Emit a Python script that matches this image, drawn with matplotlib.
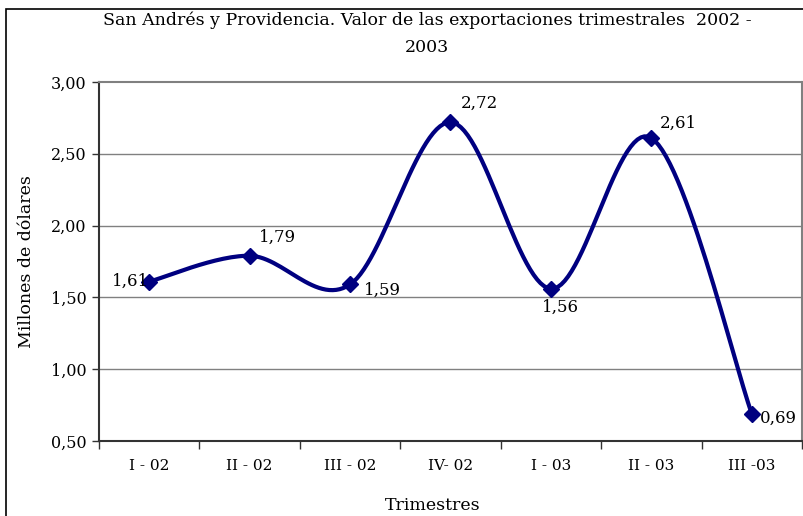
import matplotlib

matplotlib.use("Agg")
import matplotlib.pyplot as plt
import numpy as np
from matplotlib.patches import Rectangle

QUARTERS = ["I - 02", "II - 02", "III - 02", "IV- 02", "I - 03", "II - 03", "III -03"]
VALUES = [1.61, 1.79, 1.59, 2.72, 1.56, 2.61, 0.69]
VALUE_LABELS = ["1,61", "1,79", "1,59", "2,72", "1,56", "2,61", "0,69"]
Y_TICKS = [0.5, 1.0, 1.5, 2.0, 2.5, 3.0]
Y_TICK_LABELS = ["0,50", "1,00", "1,50", "2,00", "2,50", "3,00"]

TITLE = "San Andrés y Providencia. Valor de las exportaciones trimestrales  2002 -\n2003"
NAVY = "#000080"
SERIF = ["DejaVu Serif"]


def smooth_curve(xs, ys, steps=30):
    # Excel style smoothing: Bezier segments with Catmull-Rom control points
    pts = np.column_stack([xs, ys]).astype(float)
    padded = np.vstack([pts[0], pts, pts[-1]])
    out = []
    t = np.linspace(0, 1, steps)[:, None]
    for i in range(len(pts) - 1):
        p0, p1, p2, p3 = padded[i], padded[i + 1], padded[i + 2], padded[i + 3]
        c1 = p1 + (p2 - p0) / 6
        c2 = p2 - (p3 - p1) / 6
        seg = (1 - t) ** 3 * p1 + 3 * (1 - t) ** 2 * t * c1 + 3 * (1 - t) * t ** 2 * c2 + t ** 3 * p2
        out.append(seg if i == 0 else seg[1:])
    curve = np.vstack(out)
    return curve[:, 0], curve[:, 1]


def main() -> None:
    fig = plt.figure(figsize=(8.04, 5.16), dpi=100)
    fig.patches.append(
        Rectangle((6 / 804, -0.05), 1.1, 1.05 - 9 / 516, transform=fig.transFigure,
                  fill=False, edgecolor="black", linewidth=1.2)
    )

    ax = fig.add_axes([99 / 804, 1 - 441 / 516, 703 / 804, 359 / 516])
    x = np.arange(len(VALUES))

    ax.set_xlim(-0.5, len(VALUES) - 0.5)
    ax.set_ylim(0.5, 3.0)

    for yv in Y_TICKS[1:-1]:
        ax.axhline(yv, color="#808080", linewidth=1.0, zorder=1)

    sx, sy = smooth_curve(x, VALUES)
    ax.plot(sx, sy, color=NAVY, linewidth=3.0, zorder=3, solid_capstyle="round")
    ax.plot(x, VALUES, linestyle="none", marker="D", markersize=8.5, color=NAVY, zorder=4)

    offsets = [(0, 0, "right", "center"), (9, 10, "left", "bottom"), (14, -6, "left", "center"),
               (10, 10, "left", "bottom"), (10, -10, "center", "top"), (8, 6, "left", "bottom"),
               (8, -5, "left", "center")]
    for xi, val, lab, (dx, dy, ha, va) in zip(x, VALUES, VALUE_LABELS, offsets):
        ax.annotate(lab, (xi, val), xytext=(dx, dy), textcoords="offset pixels",
                    ha=ha, va=va, fontsize=12, family=SERIF, zorder=5)

    ax.set_yticks(Y_TICKS)
    ax.set_yticklabels(Y_TICK_LABELS, family=SERIF, fontsize=11.5)
    ax.set_xticks(x)
    ax.set_xticklabels(QUARTERS, family=SERIF, fontsize=11)
    ax.set_xticks(np.arange(-0.5, len(VALUES), 1.0), minor=True)
    ax.tick_params(axis="x", which="major", length=0, pad=13)
    ax.tick_params(axis="x", which="minor", length=6, width=1.0, direction="out", color="#333333")
    ax.tick_params(axis="y", length=5, width=1.0, direction="out", color="#333333", pad=4)

    for side in ("top", "right"):
        ax.spines[side].set_color("#808080")
        ax.spines[side].set_linewidth(1.5)
    for side in ("left", "bottom"):
        ax.spines[side].set_color("#333333")
        ax.spines[side].set_linewidth(1.5)

    ax.set_ylabel("Millones de dólares", family=SERIF, fontsize=12.5, labelpad=11)
    ax.set_xlabel("Trimestres", family=SERIF, fontsize=12.5)
    ax.xaxis.set_label_coords(0.475, -0.155)
    fig.text(427 / 804, 1 - 34 / 516, TITLE, ha="center", va="center", family=SERIF,
             fontsize=12.5, linespacing=1.75)

    fig.savefig("out.png", dpi=100)
    plt.close(fig)


if __name__ == "__main__":
    main()
